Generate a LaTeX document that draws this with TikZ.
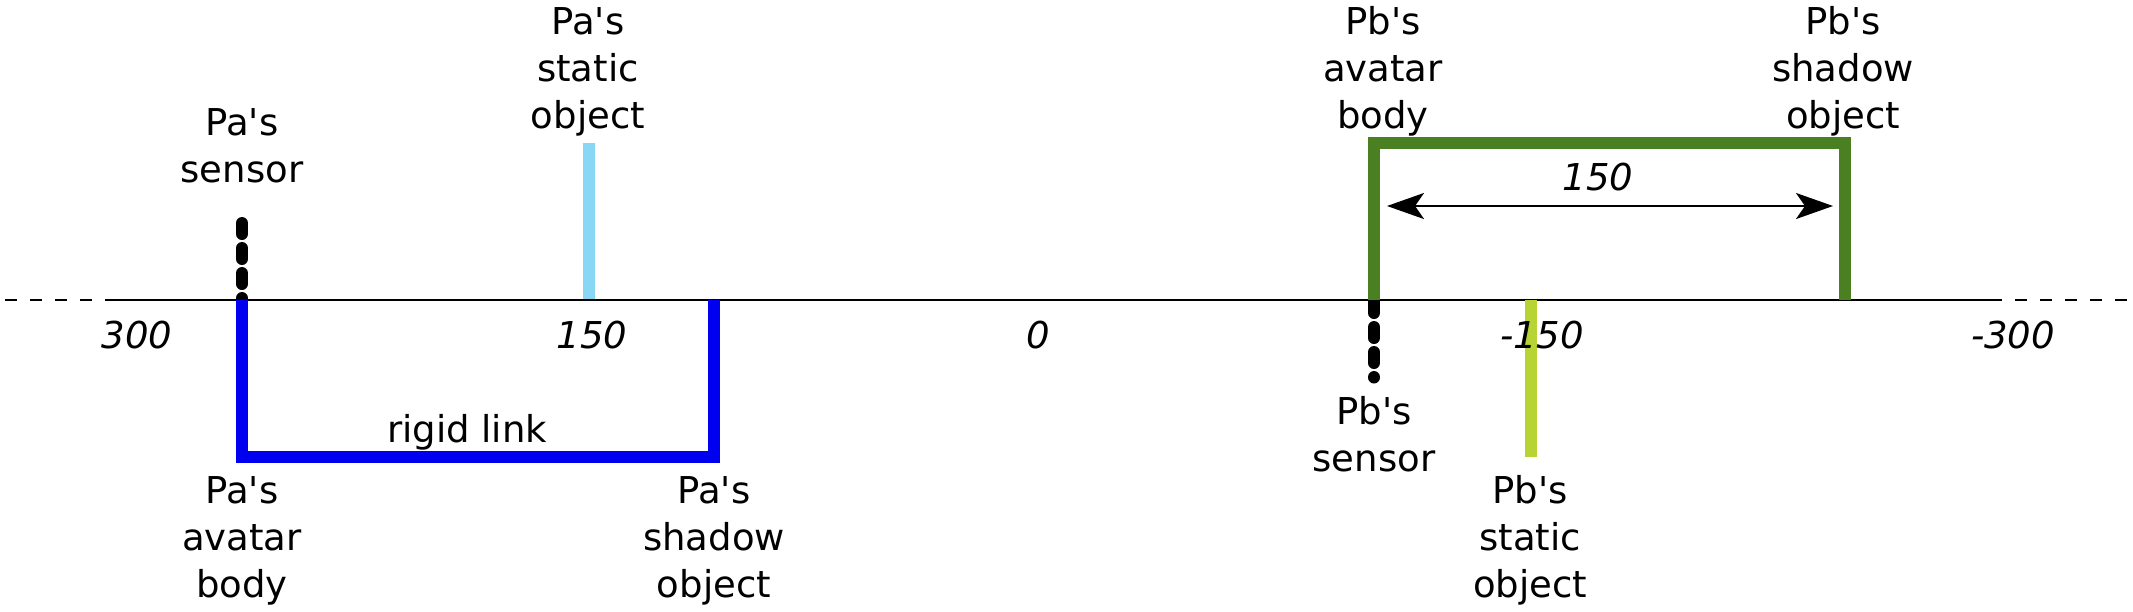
\documentclass[tikz,border=0pt]{standalone}
\usepackage{fontspec}
\setmainfont{DejaVu Sans}
\usetikzlibrary{arrows.meta}
\definecolor{cblue}{RGB}{0,0,240}
\definecolor{clight}{RGB}{135,215,245}
\definecolor{cgreen}{RGB}{74,128,34}
\definecolor{cyellow}{RGB}{183,212,52}
\newcommand\stk[1]{\begin{tabular}[t]{@{}c@{}}#1\end{tabular}}
\newcommand\q{\textquotesingle}
\begin{document}
\begin{tikzpicture}[x=1pt,y=-1pt,
  lbl/.style={inner sep=0pt,anchor=base,font=\fontsize{37}{47}\selectfont},
  num/.style={inner sep=0pt,anchor=base,font=\fontsize{37}{47}\selectfont\itshape},
  axisline/.style={line width=2.5pt,black},
  sensorline/.style={line width=12pt,black,line cap=round,dash pattern=on 11pt off 14pt},
  bar/.style={line width=12pt,line cap=butt,miter limit=10}]
\useasboundingbox (0,0) rectangle (2133,611);
% axis
\coordinate (axL0) at (5,300);
\coordinate (axL) at (105,300);
\coordinate (axR) at (2002,300);
\coordinate (axR0) at (2133,300);
\coordinate (axR1) at (2015,300);
\draw[axisline,dash pattern=on 12pt off 13pt] (axL0) -- (axL);
\draw[axisline] (axL) -- (axR);
\draw[axisline,dash pattern=on 12pt off 13pt] (axR1) -- (axR0);
% sensors
\coordinate (pas1) at (242,223);
\coordinate (pas2) at (242,300);
\draw[sensorline] (pas1) -- (pas2);
\coordinate (pbs1) at (1374,302);
\coordinate (pbs2) at (1374,377.5);
\draw[sensorline] (pbs1) -- (pbs2);
% blue rigid link
\coordinate (b1) at (242,300);
\coordinate (b2) at (242,457);
\coordinate (b3) at (714,457);
\coordinate (b4) at (714,300);
\draw[bar,cblue] (b1) -- (b2) -- (b3) -- (b4);
% light blue static object
\coordinate (l1) at (589,143);
\coordinate (l2) at (589,299);
\draw[bar,clight] (l1) -- (l2);
% green
\coordinate (g1) at (1374,300);
\coordinate (g2) at (1374,143);
\coordinate (g3) at (1845,143);
\coordinate (g4) at (1845,300);
\draw[bar,cgreen] (g1) -- (g2) -- (g3) -- (g4);
% yellow green
\coordinate (y1) at (1531,300);
\coordinate (y2) at (1531,457);
\draw[bar,cyellow] (y1) -- (y2);
% dimension arrow
\coordinate (a1) at (1387,206);
\coordinate (a2) at (1833,206);
\draw[line width=2.5pt,{Stealth[length=37pt,width=26pt,inset=9pt]}-{Stealth[length=37pt,width=26pt,inset=9pt]}] (a1) -- (a2);
\node[num] (dim) at (1598,190) {150};
% tick labels
\node[num] (t300) at (137,348) {300};
\node[num] (t150) at (592,348) {150};
\node[num] (t0) at (1038,348) {0};
\node[num] (tm150) at (1542,348) {-150};
\node[num] (tm300) at (2013,348) {-300};
% labels
\node[lbl] (pasensor) at (242,135) {\stk{Pa\q s\\sensor}};
\node[lbl] (pastatic) at (588,34) {\stk{Pa\q s\\static\\object}};
\node[lbl] (pbbody) at (1383,34) {\stk{Pb\q s\\avatar\\body}};
\node[lbl] (pbshadow) at (1843,34) {\stk{Pb\q s\\shadow\\object}};
\node[lbl] (paavatar) at (242,503) {\stk{Pa\q s\\avatar\\body}};
\node[lbl] (pashadow) at (714,503) {\stk{Pa\q s\\shadow\\object}};
\node[lbl] (pbsensor) at (1374,424) {\stk{Pb\q s\\sensor}};
\node[lbl] (pbstatic) at (1530,503) {\stk{Pb\q s\\static\\object}};
\node[lbl] (rigid) at (467,442) {rigid link};
\end{tikzpicture}
\end{document}
